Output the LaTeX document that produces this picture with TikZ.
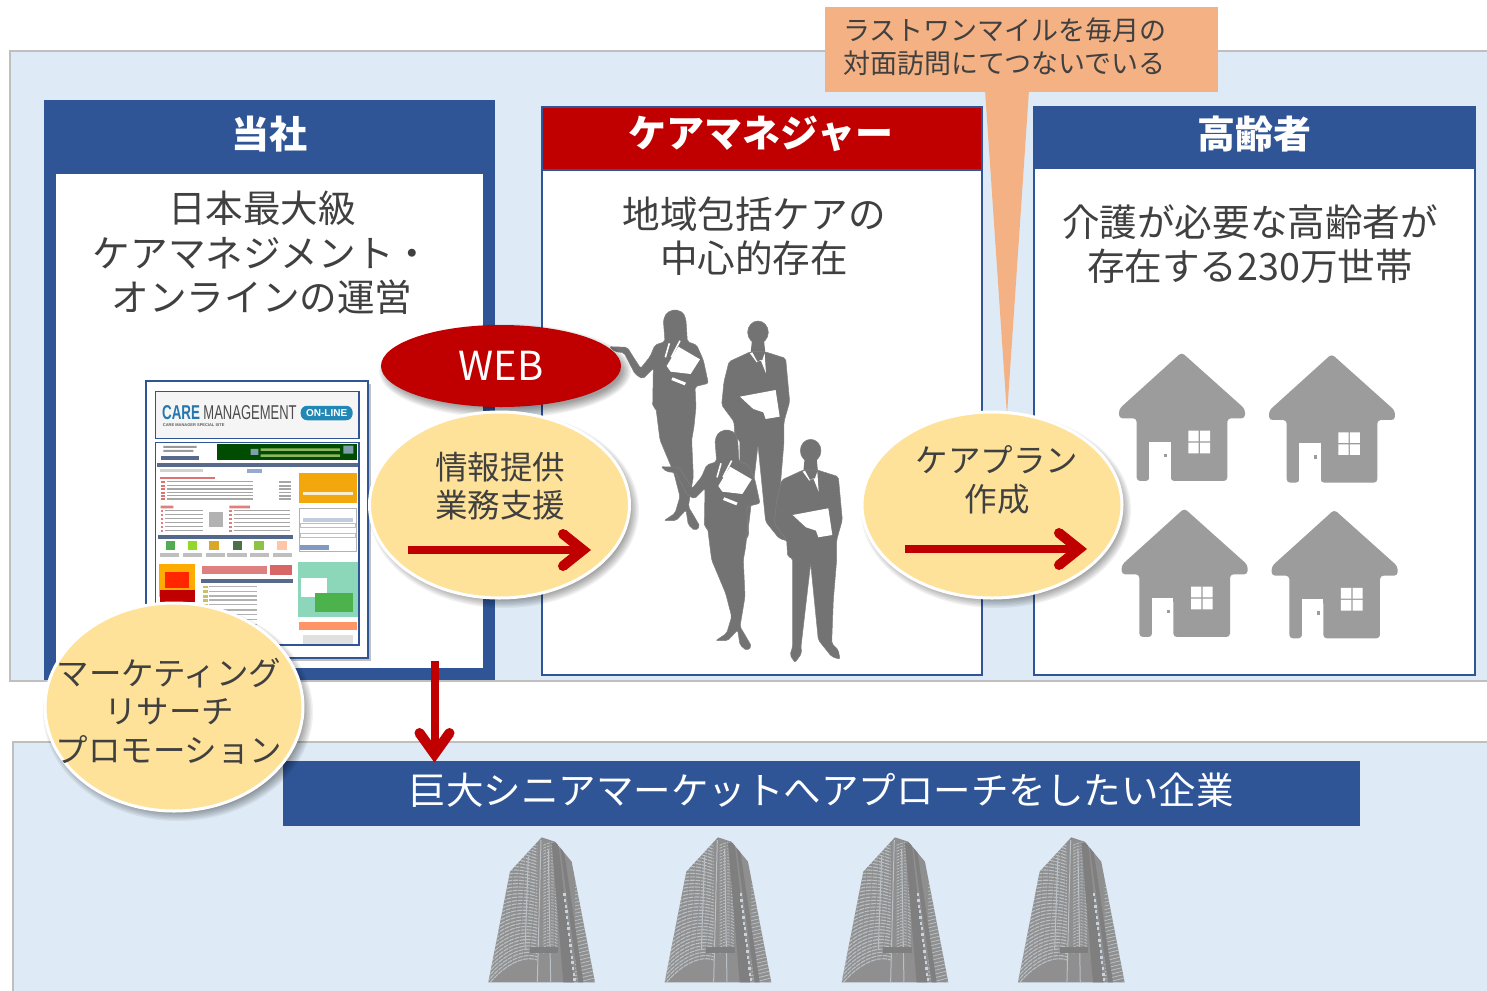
\documentclass[tikz,border=0pt]{standalone}
\usepackage{fontspec}
\setmainfont{Noto Sans CJK JP}
\newfontfamily\lat{Liberation Sans}
\usetikzlibrary{shapes.geometric}
\definecolor{panelbg}{HTML}{DEEAF6}
\definecolor{panelln}{HTML}{BFBFBF}
\definecolor{navy}{HTML}{2F5597}
\definecolor{crimson}{HTML}{C00000}
\definecolor{cream}{HTML}{FFE299}
\definecolor{peach}{HTML}{F4B183}
\definecolor{ink}{HTML}{404040}
\definecolor{fig}{HTML}{737373}
\definecolor{hous}{HTML}{9C9C9C}
\definecolor{towerlt}{HTML}{B9BFC5}
\definecolor{towerdk}{HTML}{7F7F7F}
\definecolor{towermd}{HTML}{8F8F8F}
\tikzset{
  panel/.style={draw=panelln,line width=2pt,fill=panelbg},
  whitebox/.style={draw=navy,line width=2pt,fill=white,inner sep=0pt,anchor=north west},
  headbar/.style={inner sep=0pt,text=white,font=\fontsize{38}{40}\selectfont\bfseries},
  maintext/.style={inner sep=0pt,text=ink,align=center,font=\fontsize{37.6}{44.5}\selectfont},
  bubbletext/.style={inner sep=0pt,text=ink,align=center,font=\fontsize{32.5}{38.5}\selectfont},
  bubble/.style={ellipse,fill=cream,draw=white,line width=3pt,inner sep=0pt},
  shaftline/.style={draw=crimson,line width=8pt},
  headline/.style={draw=crimson,line width=10pt,line join=miter,miter limit=10},
  thin/.style={line width=0.5pt},
}
\newcommand{\softshadow}[4]{%
  \foreach \k in {0,...,7}{%
    \fill[black,opacity=0.055] (#1+4,#2+5) ellipse [x radius=#3+6-\k*1.4, y radius=#4+6-\k*1.4];
  }}
\newcommand{\womanfig}[2]{%
 \begin{scope}[shift={(#1,#2)}]
  \fill[fig,draw=fig!90!white,thin,rounded corners=2pt] (190,60)--(200,38)--(225,28)--(250,38)--(258,60)--(262,125)--(290,135)--(310,180)--(325,250)--(285,260)--(288,320)--(282,380)--(275,420)--(280,530)--(265,620)--(283,650)--(300,680)--(285,692)--(265,675)--(258,630)--(228,662)--(192,662)--(225,640)--(240,590)--(222,520)--(180,420)--(168,325)--(158,320)--(160,205)--(128,237)--(105,222)--(72,158)--(45,155)--(28,140)--(60,141)--(82,142)--(98,168)--(122,205)--(150,170)--(165,135)--(195,125)--cycle;
  \fill[white] (235,140)--(300,178)--(272,222)--(212,215)--(200,198)--cycle;
  \draw[white,line width=1.6pt] (208,130)--(196,172) (240,122)--(214,172);
  \fill[white] (218,232)--(258,248)--(254,256)--(214,240)--cycle;
 \end{scope}}
\newcommand{\manfig}[2]{%
 \begin{scope}[shift={(#1,#2)}]
  \fill[fig,draw=fig!90!white,thin] (632,452) ellipse [x radius=31, y radius=34];
  \fill[fig] (614,475)--(650,475)--(654,515)--(610,515)--cycle;
  \fill[fig,draw=fig!90!white,thin,rounded corners=2pt] (610,510)--(545,540)--(530,600)--(523,670)--(560,720)--(563,770)--(578,775)--(578,1040)--(570,1065)--(585,1088)--(605,1060)--(603,1040)--(632,790)--(655,1020)--(695,1070)--(720,1078)--(715,1050)--(695,1030)--(700,900)--(710,780)--(710,720)--(727,660)--(715,530)--(652,510)--cycle;
  \fill[white] (608,515)--(615,512)--(630,540)--(645,535)--(652,515)--(656,575)--(640,535)--(628,542)--cycle;
  \fill[white] (578,645)--(685,625)--(697,705)--(655,712)--(648,692)--(618,682)--cycle;
 \end{scope}}
\newcommand{\housefig}[2]{%
 \begin{scope}[shift={(#1,#2)}]
  \fill[hous,rounded corners=3.5pt] (215,22)--(27,192)--(27,220)--(80,220)--(80,408)--(118,408)--(118,293)--(182,293)--(182,408)--(352,408)--(352,220)--(405,220)--(405,192)--cycle;
  \fill[white] (235,257) rectangle (266,289) (270,257) rectangle (300,289) (235,293) rectangle (266,325) (270,293) rectangle (300,325);
  \fill[white] (118,290) rectangle (182,409);
  \fill[hous] (163,326) rectangle (172,337);
 \end{scope}}
\newcommand{\bldgfig}[1]{%
 \begin{scope}[shift={(#1,0)}]
  \begin{scope}
   \clip (25,457)--(90,125)--(185,22)--(225,35)--(275,95)--(345,457)--cycle;
   \fill[towermd] (0,0) rectangle (360,470);
   \foreach \j in {0,...,36}{
     \draw[towerlt,line width=1.1pt,dash pattern=on 5pt off 0.8pt] (20,{470-\j*12}) .. controls (70,{405-\j*11}) and (130,{375-\j*9.5}) .. (172,{390-\j*9.5});
     \draw[towerlt,line width=0.8pt,dash pattern=on 3pt off 1pt] (190,{370-\j*9}) .. controls (205,{360-\j*9}) and (225,{360-\j*9}) .. (232,{368-\j*9});
     \draw[towerlt,line width=0.8pt] (285,{470-\j*11}) -- (345,{455-\j*11});
   }
   \draw[towerlt,line width=1pt] (183,30)--(172,457) (205,60)--(212,457) (145,80)--(135,360);
   \fill[towerdk] (150,350) rectangle (235,370);
   \fill[towerdk] (215,38)--(235,38)--(282,457)--(250,457)--cycle;
   \fill[towerdk] (240,50)--(250,50)--(310,457)--(295,457)--cycle;
   \foreach \j in {0,...,15}{
     \fill[panelbg!90!black] ({250+\j*2},{190+\j*17}) rectangle ({257+\j*2},{199+\j*17});
   }
  \end{scope}
 \end{scope}}
\begin{document}
\begin{tikzpicture}[x=1pt,y=-1pt]
\useasboundingbox (0,0) rectangle (1487,990);
\fill[white] (0,0) rectangle (1487,990);
% panels
\draw[panel] (1500,51)--(10,51)--(10,681)--(1500,681);
\draw[panel] (1500,742)--(13,742)--(13,1000)--(1500,1000);
% company box
\node[fill=navy,inner sep=0pt,minimum width=451pt,minimum height=580pt,anchor=north west] (co) at (44,100) {};
\node[fill=white,inner sep=0pt,minimum width=427pt,minimum height=494pt,anchor=north west] (coin) at (56,174) {};
\node[headbar] (cohead) at (269,134) {当社};
\node[maintext] (cotext) at (262,253) {日本最大級\\ケアマネジメント・\\オンラインの運営};
% care manager box
\node[whitebox,minimum width=440pt,minimum height=568pt] (cm) at (540.5,105.5) {};
\node[fill=crimson,draw=navy,line width=2pt,inner sep=0pt,minimum width=440pt,minimum height=63pt,anchor=north west] (cmbar) at (540.5,105.5) {};
\node[headbar] (cmhead) at (761,134) {ケアマネジャー};
\node[maintext] (cmtext) at (754,236) {地域包括ケアの\\中心的存在};
% elderly box
\node[whitebox,minimum width=441pt,minimum height=568pt] (el) at (1032.5,105.5) {};
\node[fill=navy,inner sep=0pt,minimum width=442pt,minimum height=63pt,anchor=north west] (elbar) at (1033,105.5) {};
\node[headbar] (elhead) at (1254,134) {高齢者};
\node[maintext] (eltext) at (1250,244) {介護が必要な高齢者が\\存在する230万世帯};
% callout
\fill[peach] (985,90)--(1029,90)--(1007,415)--cycle;
\node[fill=peach,inner sep=0pt,minimum width=393pt,minimum height=85pt,anchor=north west] (call) at (825,7) {};
\node[inner sep=0pt,anchor=west,text=ink,align=left,font=\fontsize{27}{32.5}\selectfont] (calltext) at (843,47) {ラストワンマイルを毎月の\\対面訪問にてつないでいる};
% website thumbnail
\begin{scope}[shift={(140,375)},x=0.3333pt,y=-0.3333pt]
 \fill[black,opacity=0.25] (23,26) rectangle (693,858);
 \draw[navy,line width=2pt,fill=white] (17,18) rectangle (685,850);
 \draw[navy,line width=1.6pt,fill=black!4] (47,50) rectangle (657,190);
 \node[inner sep=0pt,anchor=west,text=navy!80!cyan,xscale=0.67,font=\lat\fontsize{20}{20}\selectfont\bfseries] (tcare) at (66,112) {CARE};
 \node[inner sep=0pt,anchor=west,text=black!70,xscale=0.65,font=\lat\fontsize{20}{20}\selectfont] (tman) at (190,112) {MANAGEMENT};
 \node[fill=navy!70!cyan,rounded corners=6.5pt,minimum width=52pt,minimum height=14.5pt,inner sep=0pt,text=white,font=\lat\fontsize{10}{10}\selectfont\bfseries] (tpill) at (560,114) {ON-LINE};
 \node[inner sep=0pt,anchor=west,text=black!65,font=\lat\fontsize{4}{4}\selectfont\bfseries] (tsub) at (68,150) {CARE MANAGER SPECIAL SITE};
 \draw[navy,line width=1.6pt,fill=white] (47,203) rectangle (657,810);
 % banner
 \fill[black!70!green] (230,208) rectangle (652,255);
 \fill[yellow!45!green!60!gray] (362,220) rectangle (600,228) (362,238) rectangle (600,246);
 \fill[cyan!30!gray] (332,222) rectangle (355,240) (610,212) rectangle (640,236);
 \fill[black!40] (70,213) rectangle (170,219) (70,225) rectangle (160,231);
 \fill[navy!50!gray] (62,242) rectangle (178,254);
 % nav
 \fill[navy!50!gray] (50,263) rectangle (654,275);
 \fill[black!18] (60,282) rectangle (190,291);
 \fill[navy!50] (322,282) rectangle (365,293);
 % left news
 \fill[crimson!55] (60,305) rectangle (225,312);
 \foreach \r in {318,330,340,350,360,370}{
   \fill[crimson!55] (62,\r) rectangle (74,\r+6);
   \fill[black!35] (80,\r) rectangle (340,\r+4);
   \fill[black!35] (418,\r) rectangle (452,\r+5);
 }
 \fill[crimson!50] (62,392) rectangle (100,400) (268,392) rectangle (330,400);
 \foreach \r in {405,417,429,441,453,465}{
   \fill[crimson!50] (62,\r) rectangle (70,\r+7);
   \fill[black!35] (74,\r) rectangle (190,\r+4);
   \fill[crimson!50] (268,\r) rectangle (276,\r+7);
   \fill[black!35] (282,\r) rectangle (450,\r+4);
 }
 \fill[black!30] (208,410) rectangle (250,455);
 \fill[navy!55!gray] (55,480) rectangle (460,492);
 \fill[green!35!gray] (78,498) rectangle (105,525);
 \fill[green!40!yellow!70!gray] (143,498) rectangle (172,525);
 \fill[orange!55!yellow!70!gray] (208,498) rectangle (238,525);
 \fill[green!20!black!70] (278,498) rectangle (305,525);
 \fill[yellow!50!green!80!gray] (342,498) rectangle (372,525);
 \fill[red!30!orange!35] (410,498) rectangle (440,525);
 \foreach \c in {60,128,198,262,330,398} { \fill[black!25] (\c,533) rectangle (\c+58,545); }
 % lower left
 \fill[orange!65!yellow] (57,567) rectangle (165,665);
 \fill[red!70!orange] (75,590) rectangle (148,640);
 \fill[crimson] (60,645) rectangle (165,680);
 \fill[crimson!50] (185,572) rectangle (380,598);
 \fill[crimson!60] (390,570) rectangle (455,600);
 \fill[navy!50!gray] (182,612) rectangle (460,624);
 \foreach \r in {632,646,660,672,686,702,716,730,745,760,775,790}{
   \fill[yellow!50!gray] (190,\r) rectangle (204,\r+8);
   \fill[black!30] (208,\r+1) rectangle (350,\r+5);
 }
 % right column
 \fill[orange!65!yellow!90!gray] (477,293) rectangle (650,385);
 \fill[white,opacity=.8] (490,350) rectangle (640,360);
 \draw[black!30] (477,400) rectangle (650,528);
 \fill[navy!30] (490,428) rectangle (640,440);
 \draw[black!25] (480,445) rectangle (645,458) (480,476) rectangle (645,488);
 \fill[navy!60] (480,510) rectangle (568,525);
 \fill[cyan!35!green!45] (475,560) rectangle (655,725);
 \fill[white] (483,610) rectangle (560,665);
 \fill[green!40!gray] (525,655) rectangle (640,710);
 \fill[orange!60!red!60] (478,740) rectangle (652,765);
 \fill[black!12] (490,780) rectangle (640,808);
\end{scope}
% people
\begin{scope}[shift={(600,300)},x=0.3333pt,y=-0.3333pt]
 \womanfig{0}{0}
 \manfig{-158}{-355}
 \womanfig{155}{360}
 \manfig{0}{0}
\end{scope}
% houses
\begin{scope}[shift={(1110,345)},x=0.3333pt,y=-0.3333pt]
 \housefig{0}{0}
 \housefig{450}{5}
 \housefig{8}{468}
 \housefig{458}{472}
\end{scope}
% buildings
\begin{scope}[shift={(480,830)},x=0.3333pt,y=-0.3333pt]
 \bldgfig{0}
 \bldgfig{529}
 \bldgfig{1060}
 \bldgfig{1589}
\end{scope}
% bubbles
\softshadow{501}{366}{120}{41}
\node[ellipse,fill=crimson,inner sep=0pt,minimum width=240pt,minimum height=82pt,text=white,font=\fontsize{40}{40}\selectfont] (web) at (501,366) {WEB};
\softshadow{500}{505}{129}{92}
\node[bubble,minimum width=260pt,minimum height=186pt] (info) at (499.5,505) {};
\node[bubbletext] (infotext) at (500,486) {情報提供\\業務支援};
\coordinate (a1s) at (408,550);
\coordinate (a1e) at (583,550);
\draw[shaftline] (a1s) -- (a1e);
\draw[headline,line cap=butt] ([shift={(-20,-16)}]a1e) -- (a1e) -- ([shift={(-20,16)}]a1e);
\fill[crimson] ([shift={(-20,-16)}]a1e) circle [radius=5] ([shift={(-20,16)}]a1e) circle [radius=5];
\softshadow{992}{505}{129}{92}
\node[bubble,minimum width=260pt,minimum height=186pt] (plan) at (992,505) {};
\node[bubbletext] (plantext) at (997,480) {ケアプラン\\作成};
\coordinate (a2s) at (905,549);
\coordinate (a2e) at (1079,549);
\draw[shaftline] (a2s) -- (a2e);
\draw[headline,line cap=butt] ([shift={(-20,-16)}]a2e) -- (a2e) -- ([shift={(-20,16)}]a2e);
\fill[crimson] ([shift={(-20,-16)}]a2e) circle [radius=5] ([shift={(-20,16)}]a2e) circle [radius=5];
% bottom bar
\node[fill=navy,inner sep=0pt,minimum width=1077pt,minimum height=65pt,anchor=north west] (bar) at (283,761) {};
\node[inner sep=0pt,text=white,font=\fontsize{37.5}{40}\selectfont] (bartext) at (821,790) {巨大シニアマーケットへアプローチをしたい企業};
% marketing bubble
\softshadow{174}{707}{129}{103}
\node[bubble,minimum width=258pt,minimum height=208pt] (mkt) at (174,707) {};
\node[bubbletext] (mkttext) at (169,711) {マーケティング\\リサーチ\\プロモーション};
% down arrow
\coordinate (a3s) at (434.5,661);
\coordinate (a3e) at ([yshift=7pt]a3s |- bar.north);
\draw[shaftline] (a3s) -- (a3e);
\draw[headline,line cap=butt] ([shift={(-15,-21)}]a3e) -- (a3e) -- ([shift={(15,-21)}]a3e);
\fill[crimson] ([shift={(-15,-21)}]a3e) circle [radius=5] ([shift={(15,-21)}]a3e) circle [radius=5];
\end{tikzpicture}
\end{document}
